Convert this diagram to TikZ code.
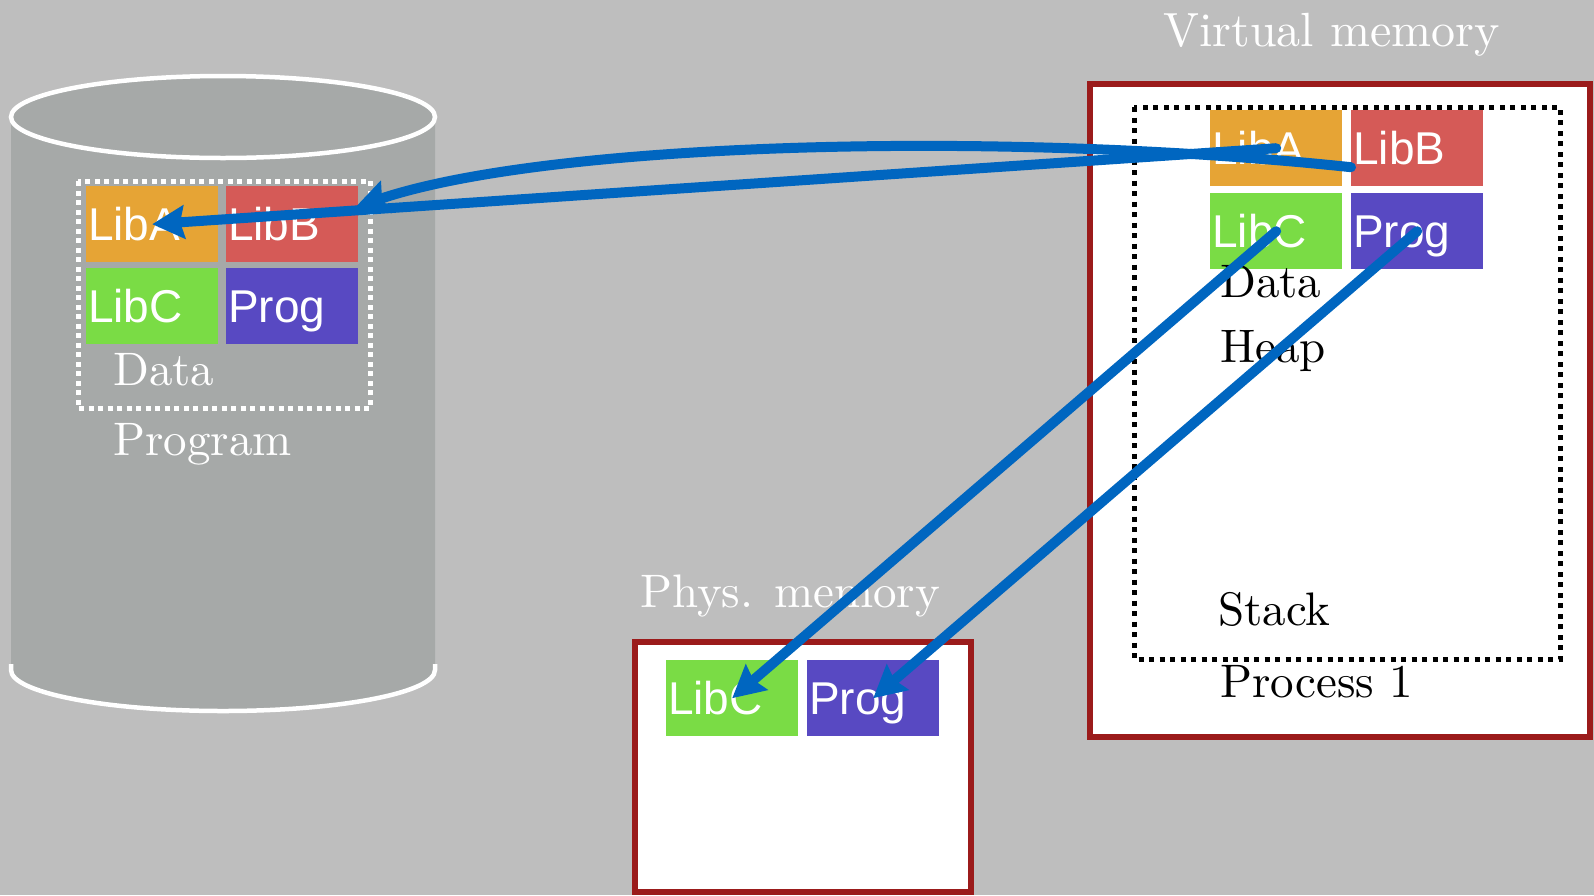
\documentclass[tikz,border=0pt]{standalone}
\usepackage{fontspec}
\setmainfont{lmroman10-regular.otf}
\newfontfamily\arialf{Liberation Sans}
\usetikzlibrary{arrows.meta}
\definecolor{bggray}{HTML}{BEBEBE}
\definecolor{cylgray}{HTML}{A6A9A8}
\definecolor{liba}{HTML}{E6A435}
\definecolor{libb}{HTML}{D55A57}
\definecolor{libc}{HTML}{7ADC45}
\definecolor{prog}{HTML}{5849C2}
\definecolor{arrblue}{HTML}{0066C0}
\definecolor{frame}{HTML}{9B1B1B}
\begin{document}
\begin{tikzpicture}[x=1pt,y=-1pt,
  blk/.style={anchor=north west, inner ysep=0pt, inner xsep=2pt, text width=128pt,
    minimum height=76pt, text height=33pt, text depth=0pt, align=left, text=white,
    font=\arialf\fontsize{46}{46}\selectfont},
  lbl/.style={anchor=base west, inner sep=0pt, font=\fontsize{47}{47}\selectfont},
  arr/.style={draw=arrblue, line width=10pt, line cap=round,
    -{Stealth[length=32pt,width=33pt,inset=4pt]}},
  memframe/.style={draw=frame, fill=white, line width=6.5pt},
]
\fill[bggray] (0,0) rectangle (1594,895);
\useasboundingbox (0,0) rectangle (1594,895);

% disk cylinder
\fill[cylgray] (11,117) -- (11,670) arc[start angle=180, end angle=0, x radius=212, y radius=42]
  -- (435,117) arc[start angle=0, end angle=-180, x radius=212, y radius=42] -- cycle;
\draw[white, line width=4.5pt] (223,117) ellipse [x radius=212, y radius=41];
\draw[white, line width=4.5pt] (11,664) -- (11,670) arc[start angle=180, end angle=0, x radius=212, y radius=41] -- (435,664);
\draw[white, line width=5pt, dash pattern=on 5pt off 4.5pt] (78,181) rectangle (370,408);

\node[blk, fill=liba] (dA) at (86,186) {LibA};
\node[blk, fill=libb] (dB) at (226,186) {LibB};
\node[blk, fill=libc] (dC) at (86,268) {LibC};
\node[blk, fill=prog] (dP) at (226,268) {Prog};
\node[lbl, text=white] (dData) at (113,385) {Data};
\node[lbl, text=white] (dProg) at (113,455) {Program};

% virtual memory
\node[lbl, text=white, font=\fontsize{48}{48}\selectfont] (vmt) at (1163,46) {Virtual memory};
\draw[memframe] (1090,84) rectangle (1590,737);
\draw[black, line width=5pt, dash pattern=on 5pt off 5.5pt] (1134,107) rectangle (1560,659);
\node[blk, fill=liba] (vA) at (1210,110) {LibA};
\node[blk, fill=libb] (vB) at (1351,110) {LibB};
\node[blk, fill=libc] (vC) at (1210,193) {LibC};
\node[blk, fill=prog] (vP) at (1351,193) {Prog};
\node[lbl] (vData) at (1220,297) {Data};
\node[lbl] (vHeap) at (1220,362) {Heap};
\node[lbl] (vStack) at (1218,625) {Stack};
\node[lbl] (vProc) at (1220,697) {Process 1};

% physical memory
\node[lbl, text=white] (pmt) at (640,607) {Phys. memory};
\draw[memframe] (635,642) rectangle (971,892);
\node[blk, fill=libc] (pC) at (666,660) {LibC};
\node[blk, fill=prog] (pP) at (807,660) {Prog};

% arrows
\draw[arr] (vA.center) -- (dA.center);
\draw[arr] ([yshift=-19pt]vB.west) .. controls (1000,130) and (550,142) .. ([xshift=-3pt,yshift=17pt]dB.east);
\draw[arr] (vC.center) -- (pC.center);
\draw[arr] (vP.center) -- (pP.center);
\end{tikzpicture}
\end{document}
